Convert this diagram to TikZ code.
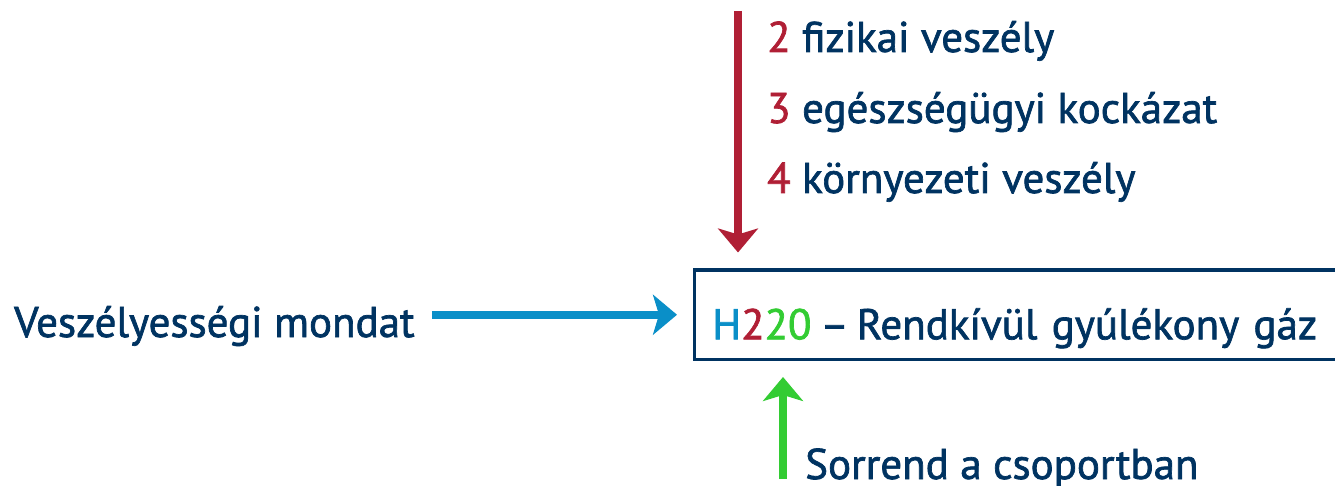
\documentclass[tikz,border=0pt]{standalone}
\usepackage{fontspec}
\setmainfont{PT Sans}[BoldFont=PT Sans, BoldFeatures={FakeBold=1.6}]
\usepackage{xcolor}
\usetikzlibrary{positioning, arrows.meta}

\definecolor{navy}{HTML}{003361}
\definecolor{hred}{HTML}{B01F35}
\definecolor{hblue}{HTML}{0A8FC8}
\definecolor{hgreen}{HTML}{33CC33}

\begin{document}
\begin{tikzpicture}[x=1pt, y=-1pt,
    lbl/.style={inner sep=0pt, anchor=base west, text=navy,
                font=\fontsize{43}{50}\selectfont\bfseries},
    pointer/.style={line width=8pt,
                -{Stealth[length=24pt, width=40pt, inset=6pt]}}]
  \useasboundingbox (0,0) rectangle (1335,486);
  \clip (0,0) rectangle (1335,486);

  % the hazard statement
  \node[draw=navy, line width=3.5pt, anchor=north west, inner xsep=18pt, inner ysep=0pt,
        minimum width=680pt, minimum height=89pt, text width=644pt, align=left,
        text height=49pt, text depth=0pt, text=navy, font=\fontsize{43}{50}\selectfont\bfseries]
        (box) at (692.5,268.5)
        {\textcolor{hblue}{H}\textcolor{hred}{2}\textcolor{hgreen}{20}\kern9pt--\kern8pt Rendkívül gyúlékony gáz};

  % groups
  \node[lbl] (phys) at (767,52) {\textcolor{hred}{2} fizikai veszély};
  \node[lbl] (health) at (767,123) {\textcolor{hred}{3} egészségügyi kockázat};
  \node[lbl] (env) at (767,193) {\textcolor{hred}{4} környezeti veszély};
  \coordinate (grp) at (738,11);
  \draw[pointer, hred, shorten >=16pt] (grp) -- (grp |- box.north);

  % statement
  \node[lbl] (stmt) at (14,337) {Veszélyességi mondat};
  \draw[pointer, hblue, shorten <=17pt, shorten >=15.5pt] (stmt.east |- box.west) -- (box.west);

  % order
  \node[lbl] (order) at (805,479) {Sorrend a csoportban};
  \coordinate (ord) at (783,479);
  \draw[pointer, hgreen, shorten >=16pt] (ord) -- (ord |- box.south);

\end{tikzpicture}
\end{document}
